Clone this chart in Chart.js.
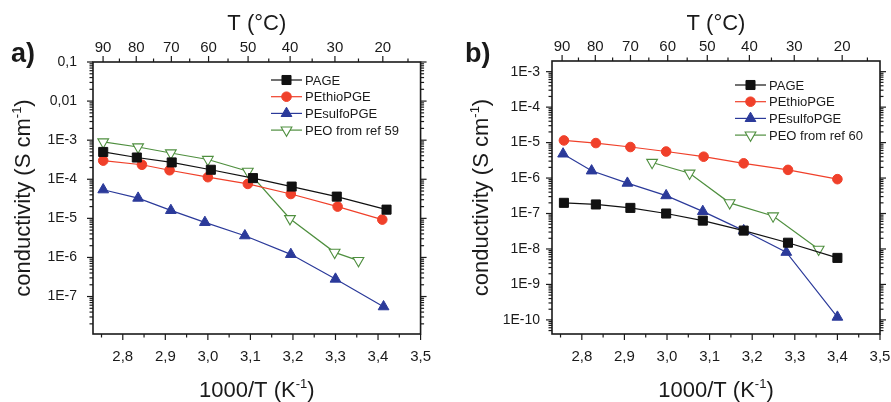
<!DOCTYPE html>
<html>
<head>
<meta charset="utf-8">
<script src="https://cdn.jsdelivr.net/npm/chart.js@4.4.1/dist/chart.umd.min.js"></script>
<style>
  html, body { margin: 0; padding: 0; background: #fff; overflow: hidden; width: 891px; height: 402px; }
  #wrap { position: relative; width: 891px; height: 402px; overflow: hidden; }
  canvas { position: absolute; top: 0; }
  #chartA { left: 0; }
  #chartB { left: 445px; }
</style>
</head>
<body>
<div id="wrap">
  <canvas id="chartA" width="445" height="402"></canvas>
  <canvas id="chartB" width="470" height="402"></canvas>
</div>
<script>
// ---- axis ticks ----
const X_MIN = 2.73, X_MAX = 3.5;
const xTickVals = [2.8, 2.9, 3.0, 3.1, 3.2, 3.3, 3.4, 3.5];
const xTickLabels = ['2,8', '2,9', '3,0', '3,1', '3,2', '3,3', '3,4', '3,5'];
const xMinorVals = [2.75, 2.85, 2.95, 3.05, 3.15, 3.25, 3.35, 3.45];
const tTicks = [90, 80, 70, 60, 50, 40, 30, 20];
const tMinor = [85, 75, 65, 55, 45, 35, 25, 15];

const aYTickVals = [1e-7, 1e-6, 1e-5, 1e-4, 1e-3, 1e-2, 1e-1];
const aYTickLabels = ['1E-7', '1E-6', '1E-5', '1E-4', '1E-3', '0,01', '0,1'];
const bYTickVals = [1e-10, 1e-9, 1e-8, 1e-7, 1e-6, 1e-5, 1e-4, 1e-3];
const bYTickLabels = ['1E-10', '1E-9', '1E-8', '1E-7', '1E-6', '1E-5', '1E-4', '1E-3'];

// ---- panel a) data ----
const aLabels = ['PAGE', 'PEthioPGE', 'PEsulfoPGE', 'PEO from ref 59'];
const aPageX = [2.754, 2.833, 2.915, 3.007, 3.106, 3.197, 3.303, 3.42];
const aPageY = [5.0e-4, 3.6e-4, 2.7e-4, 1.75e-4, 1.07e-4, 6.5e-5, 3.6e-5, 1.67e-5];
const aThioX = [2.754, 2.845, 2.91, 3.0, 3.094, 3.195, 3.305, 3.41];
const aThioY = [3.0e-4, 2.35e-4, 1.7e-4, 1.13e-4, 7.6e-5, 4.2e-5, 2.0e-5, 9.3e-6];
const aSulfoX = [2.754, 2.836, 2.913, 2.993, 3.087, 3.195, 3.30, 3.413];
const aSulfoY = [5.4e-5, 3.3e-5, 1.6e-5, 7.9e-6, 3.6e-6, 1.2e-6, 2.8e-7, 5.5e-8];
const aPeoX = [2.754, 2.836, 2.913, 3.0, 3.094, 3.193, 3.298, 3.354];
const aPeoY = [9.0e-4, 6.7e-4, 4.7e-4, 3.2e-4, 1.6e-4, 9.8e-6, 1.35e-6, 8.3e-7];

// ---- panel b) data ----
const bLabels = ['PAGE', 'PEthioPGE', 'PEsulfoPGE', 'PEO from ref 60'];
const bPageX = [2.758, 2.833, 2.914, 2.998, 3.084, 3.18, 3.284, 3.40];
const bPageY = [2.0e-7, 1.8e-7, 1.44e-7, 1.0e-7, 6.3e-8, 3.3e-8, 1.5e-8, 5.6e-9];
const bThioX = [2.758, 2.833, 2.914, 2.998, 3.086, 3.18, 3.284, 3.40];
const bThioY = [1.15e-5, 9.7e-6, 7.5e-6, 5.6e-6, 4.0e-6, 2.6e-6, 1.7e-6, 9.3e-7];
const bSulfoX = [2.756, 2.823, 2.907, 2.998, 3.084, 3.18, 3.28, 3.40];
const bSulfoY = [4.8e-6, 1.6e-6, 7.2e-7, 3.2e-7, 1.15e-7, 3.3e-8, 8.1e-9, 1.2e-10];
const bPeoX = [2.965, 3.053, 3.147, 3.249, 3.356];
const bPeoY = [2.75e-6, 1.37e-6, 2.0e-7, 8.5e-8, 9.8e-9];

const INK = '#1a1a1a';
Chart.defaults.font.family = "'Liberation Sans', Arial, sans-serif";
Chart.defaults.color = INK;

const STYLES = [
    { borderColor: '#111111', backgroundColor: '#111111', pointStyle: 'rect', pointRadius: 6.4, pointBorderWidth: 1 },
    { borderColor: '#f0402a', backgroundColor: '#f0402a', pointStyle: 'circle', pointRadius: 4.8, pointBorderWidth: 1 },
    { borderColor: '#2b3a9a', backgroundColor: '#2b3a9a', pointStyle: 'triangle', pointRadius: 6.2, pointBorderWidth: 1 },
    { borderColor: '#4f8f3f', backgroundColor: '#ffffff', pointStyle: 'triangle', pointRotation: 180, pointRadius: 6.2, pointBorderWidth: 1.1 }
];

function series(label, xs, ys, i) {
    return Object.assign({
        label: label,
        data: xs.map((x, k) => ({ x: x, y: ys[k] })),
        showLine: true,
        borderWidth: 1.2,
        pointBackgroundColor: STYLES[i].backgroundColor,
        pointBorderColor: STYLES[i].borderColor,
        pointHoverRadius: STYLES[i].pointRadius
    }, STYLES[i]);
}

function logMinors(min, max) {
    const out = [];
    for (let e = Math.floor(Math.log10(min)); e <= Math.ceil(Math.log10(max)); e++) {
        for (let k = 2; k <= 9; k++) {
            const v = k * Math.pow(10, e);
            if (v > min && v < max) out.push(v);
        }
    }
    return out;
}

// frame + tick marks, Origin style (outward)
const framePlugin = {
    id: 'frame',
    afterDraw(chart) {
        const { ctx, chartArea: a, scales } = chart;
        const seg = (x1, y1, x2, y2) => { ctx.beginPath(); ctx.moveTo(x1, y1); ctx.lineTo(x2, y2); ctx.stroke(); };
        ctx.save();
        ctx.strokeStyle = INK;
        ctx.lineWidth = 1.2;
        xTickVals.forEach(v => { const p = scales.x.getPixelForValue(v); seg(p, a.bottom, p, a.bottom + 6); });
        xMinorVals.forEach(v => { const p = scales.x.getPixelForValue(v); seg(p, a.bottom, p, a.bottom + 3.5); });
        tTicks.forEach(t => { const p = scales.xTop.getPixelForValue(1000 / (t + 273.15)); seg(p, a.top, p, a.top - 6); });
        tMinor.forEach(t => { const p = scales.xTop.getPixelForValue(1000 / (t + 273.15)); seg(p, a.top, p, a.top - 3.5); });
        const y = scales.y;
        y.ticks.forEach(t => { const p = y.getPixelForValue(t.value); seg(a.left, p, a.left - 6, p); seg(a.right, p, a.right + 6, p); });
        logMinors(y.min, y.max).forEach(v => { const p = y.getPixelForValue(v); seg(a.left, p, a.left - 3.5, p); seg(a.right, p, a.right + 3.5, p); });
        ctx.lineWidth = 1.6;
        ctx.strokeRect(a.left, a.top, a.width, a.height);
        ctx.restore();
    }
};

function drawParts(ctx, parts, x, y, size) {
    const supSize = Math.round(size * 0.6);
    const fam = Chart.defaults.font.family;
    let w = 0;
    parts.forEach(p => { ctx.font = (p.sup ? supSize : size) + 'px ' + fam; w += ctx.measureText(p.t).width; });
    let cx = x - w / 2;
    ctx.textAlign = 'left';
    ctx.textBaseline = 'alphabetic';
    parts.forEach(p => {
        ctx.font = (p.sup ? supSize : size) + 'px ' + fam;
        ctx.fillText(p.t, cx, p.sup ? y - size * 0.42 : y);
        cx += ctx.measureText(p.t).width;
    });
}

// titles, panel letter, legend
const annotPlugin = {
    id: 'annot',
    afterDraw(chart, args, o) {
        const { ctx, chartArea: a } = chart;
        const fam = Chart.defaults.font.family;
        const midX = (a.left + a.right) / 2;
        const midY = (a.top + a.bottom) / 2;
        ctx.save();
        ctx.fillStyle = INK;
        ctx.font = 'bold 27px ' + fam;
        ctx.textAlign = 'left';
        ctx.textBaseline = 'alphabetic';
        ctx.fillText(o.letter, o.letterX, 62);
        ctx.font = '22px ' + fam;
        ctx.textAlign = 'center';
        ctx.fillText('T (°C)', midX, 30);
        drawParts(ctx, [{ t: '1000/T (K' }, { t: '-1', sup: true }, { t: ')' }], midX, 397, 22);
        ctx.translate(o.yTitleX, midY);
        ctx.rotate(-Math.PI / 2);
        drawParts(ctx, [{ t: 'conductivity (S cm' }, { t: '-1', sup: true }, { t: ')' }], 0, 0, 22);
        ctx.restore();

        // legend
        ctx.save();
        chart.data.datasets.forEach((ds, i) => {
            const ly = o.legendY + i * 16.7;
            ctx.strokeStyle = ds.borderColor;
            ctx.lineWidth = 1.2;
            ctx.beginPath(); ctx.moveTo(o.legendX, ly); ctx.lineTo(o.legendX + 31, ly); ctx.stroke();
            ctx.fillStyle = ds.backgroundColor;
            ctx.lineWidth = ds.pointBorderWidth;
            Chart.helpers.drawPoint(ctx, { pointStyle: ds.pointStyle, radius: ds.pointRadius, rotation: ds.pointRotation || 0, borderWidth: ds.pointBorderWidth }, o.legendX + 15.5, ly);
            ctx.fillStyle = INK;
            ctx.font = '13px ' + fam;
            ctx.textAlign = 'left';
            ctx.textBaseline = 'middle';
            ctx.fillText(ds.label, o.legendX + 34, ly + 1);
        });
        ctx.restore();
    }
};

function buildScales(yMin, yMax, yVals, yLabels, leftW, rightW, topH, yPad) {
    const hidden = { grid: { display: false, drawTicks: false }, border: { display: false } };
    return {
        x: Object.assign({
            type: 'linear', position: 'bottom', min: X_MIN, max: X_MAX,
            afterBuildTicks: s => { s.ticks = xTickVals.map(v => ({ value: v })); },
            ticks: { padding: 14, font: { size: 15 }, color: INK, maxRotation: 0, autoSkip: false, callback: (v, i) => xTickLabels[i] },
            afterFit: s => { s.height = 68; }
        }, hidden),
        xTop: Object.assign({
            type: 'linear', position: 'top', min: X_MIN, max: X_MAX,
            afterBuildTicks: s => { s.ticks = tTicks.map(t => ({ value: 1000 / (t + 273.15) })); },
            ticks: { padding: 5, font: { size: 15 }, color: INK, maxRotation: 0, autoSkip: false, callback: (v, i) => String(tTicks[i]) },
            afterFit: s => { s.height = topH; }
        }, hidden),
        y: Object.assign({
            type: 'logarithmic', position: 'left', min: yMin, max: yMax,
            afterBuildTicks: s => { s.ticks = yVals.map(v => ({ value: v })); },
            ticks: { padding: yPad, font: { size: 14 }, color: INK, autoSkip: false, callback: (v, i) => yLabels[i] },
            afterFit: s => { s.width = leftW; }
        }, hidden),
        yRight: Object.assign({
            type: 'logarithmic', position: 'right', min: yMin, max: yMax,
            ticks: { display: false },
            afterFit: s => { s.width = rightW; }
        }, hidden)
    };
}

function makeChart(id, datasets, scales, annot) {
    return new Chart(document.getElementById(id), {
        type: 'scatter',
        data: { datasets: datasets },
        options: {
            responsive: false,
            animation: false,
            layout: { padding: 0 },
            plugins: { legend: { display: false }, tooltip: { enabled: false }, annot: annot },
            scales: scales
        },
        plugins: [framePlugin, annotPlugin]
    });
}

makeChart('chartA', [
    series(aLabels[0], aPageX, aPageY, 0),
    series(aLabels[1], aThioX, aThioY, 1),
    series(aLabels[2], aSulfoX, aSulfoY, 2),
    series(aLabels[3], aPeoX, aPeoY, 3)
], buildScales(1.1e-8, 0.1, aYTickVals, aYTickLabels, 93, 23, 62, 16),
{ letter: 'a)', letterX: 11, yTitleX: 30, legendX: 271, legendY: 80 });

makeChart('chartB', [
    series(bLabels[0], bPageX, bPageY, 0),
    series(bLabels[1], bThioX, bThioY, 1),
    series(bLabels[2], bSulfoX, bSulfoY, 2),
    series(bLabels[3], bPeoX, bPeoY, 3)
], buildScales(4e-11, 2e-3, bYTickVals, bYTickLabels, 107, 35, 61, 12),
{ letter: 'b)', letterX: 20, yTitleX: 43, legendX: 290, legendY: 85 });
</script>
</body>
</html>
